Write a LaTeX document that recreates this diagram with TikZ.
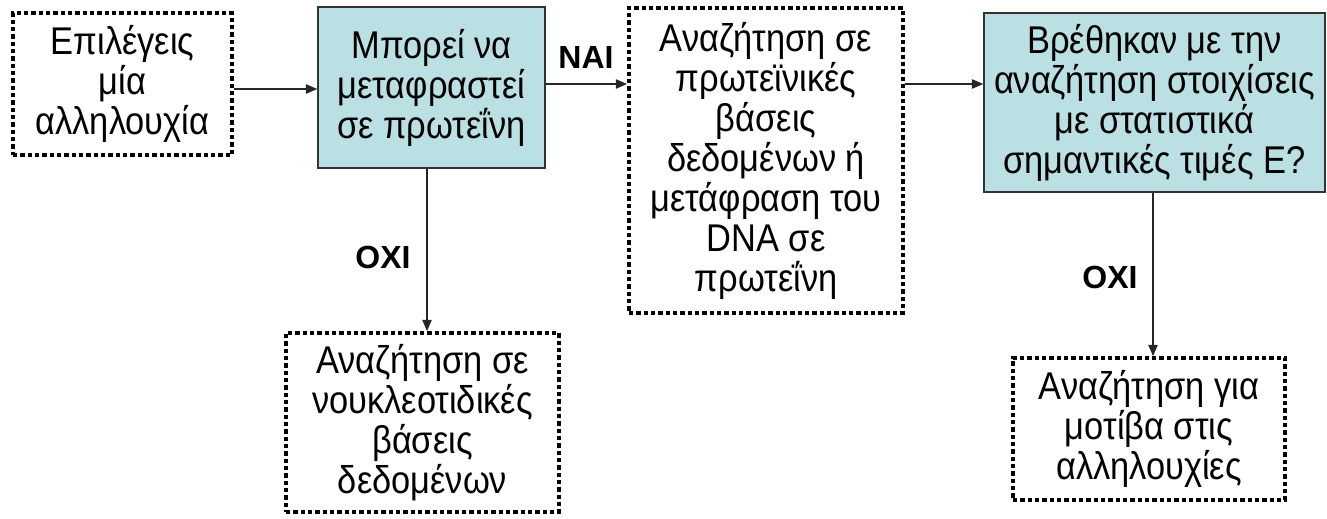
\documentclass[tikz,border=0pt]{standalone}
\usepackage{fontspec}
\setmainfont{Liberation Sans}[FakeStretch=0.89]
\newfontfamily\labelfont{Liberation Sans}
\usetikzlibrary{arrows.meta}
\definecolor{boxfill}{HTML}{BBE0E3}
\definecolor{edgegray}{HTML}{333333}
\begin{document}
\begin{tikzpicture}[x=0.75pt,y=-0.75pt,
  txt/.style={font=\fontsize{29}{30}\selectfont, align=center, inner sep=0pt},
  dotbox/.style={txt, draw=black, line width=2.8pt, dash pattern=on 3.3pt off 2.2pt},
  tealbox/.style={txt, draw=edgegray, fill=boxfill, line width=1.1pt},
  arr/.style={draw=black!85, line width=1.1pt, -{Triangle[length=8.5pt,width=7pt]}},
  lbl/.style={font=\labelfont\fontsize{24}{26}\selectfont\bfseries, inner sep=0pt}]
\useasboundingbox (0,0) rectangle (1327,518);

\node[dotbox, minimum width=164.25pt, minimum height=106.5pt] (b1) at (122.5,84)
  {Επιλέγεις\\μία\\αλληλουχία};
\node[tealbox, minimum width=170.25pt, minimum height=120.75pt] (b2) at (431.5,87.5)
  {Μπορεί να\\μεταφραστεί\\σε πρωτεΐνη};
\node[dotbox, minimum width=205.5pt, minimum height=228.75pt] (b3) at (766,160.5)
  {Αναζήτηση σε\\πρωτεϊνικές\\βάσεις\\δεδομένων ή\\μετάφραση του\\DNA σε\\πρωτεΐνη};
\node[tealbox, minimum width=255.75pt, minimum height=134.25pt] (b4) at (1154.5,102.5)
  {Βρέθηκαν με την\\αναζήτηση στοιχίσεις\\με στατιστικά\\σημαντικές τιμές E?};
\node[dotbox, minimum width=204.75pt, minimum height=134.25pt] (b5) at (422.5,422.5)
  {Αναζήτηση σε\\νουκλεοτιδικές\\βάσεις\\δεδομένων};
\node[dotbox, minimum width=204pt, minimum height=106.5pt] (b6) at (1149,429)
  {Αναζήτηση για\\μοτίβα στις\\αλληλουχίες};

\coordinate (ya) at (0,89);
\coordinate (yb) at (0,84);
\coordinate (xa) at (427,0);
\coordinate (xb) at (1153,0);

\draw[arr] (b1.east |- ya) -- (b2.west |- ya);
\draw[arr] (b2.east |- yb) -- (b3.west |- yb);
\draw[arr] (b3.east |- yb) -- (b4.west |- yb);
\draw[arr] (b2.south -| xa) -- (b5.north -| xa);
\draw[arr] (b4.south -| xb) -- (b6.north -| xb);

\node[lbl] (nai) at (586,57) {ΝΑΙ};
\node[lbl] (oxi1) at (383,257) {ΟΧΙ};
\node[lbl] (oxi2) at (1110,277) {ΟΧΙ};
\end{tikzpicture}
\end{document}
